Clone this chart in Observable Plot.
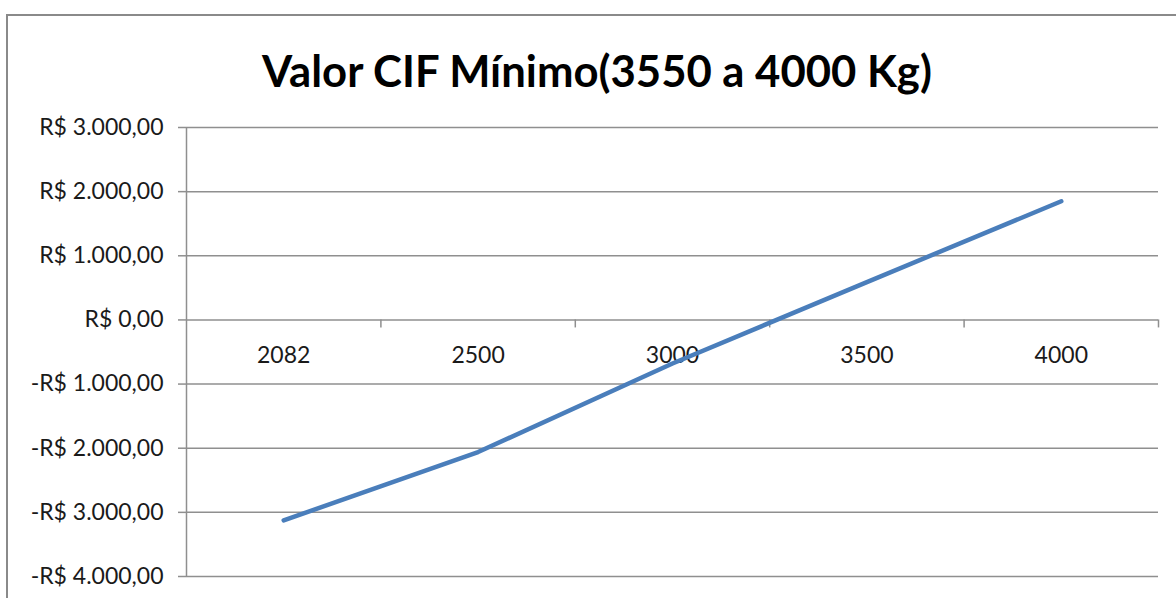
<!DOCTYPE html>
<html>
<head>
<meta charset="utf-8">
<script src="https://cdn.jsdelivr.net/npm/d3@7"></script>
<script src="https://cdn.jsdelivr.net/npm/@observablehq/plot@0.6"></script>
<style>
  html, body { margin: 0; padding: 0; background: #fff; overflow: hidden; width: 1176px; height: 598px; }
  #frame { position: absolute; left: 6px; top: 14px; width: 1300px; height: 800px;
           border-left: 2px solid #8a8a8a; border-top: 2px solid #8a8a8a; pointer-events: none; }
  #title { box-sizing: border-box; height: 100px; width: 1176px; padding-top: 41px; padding-left: 18px;
           text-align: center; font-family: Lato, "Open Sans", sans-serif; font-weight: 700;
           font-size: 53px; line-height: 1; color: #000; white-space: nowrap; }
  #title span { display: inline-block; }
  #chart svg { display: block; }
</style>
</head>
<body>
<div id="frame"></div>
<div id="title"><span>Valor CIF Mínimo(3550 a 4000 Kg)</span></div>
<div id="chart"></div>
<script>
// Weight categories (kg) and the minimum CIF value for each one (R$)
const pesos = ["2082", "2500", "3000", "3500", "4000"];
const valores = [-3125, -2060, -680, 590, 1850];
// Value axis ticks
const yTicks = [3000, 2000, 1000, 0, -1000, -2000, -3000, -4000];

const grid = "#8f8f8f";
const ink = "#1a1a1a";

// Fit the title's width
const span = document.querySelector("#title span");
const w = span.getBoundingClientRect().width;
if (w > 0) {
  const fs = 53 * 670 / w;
  const title = document.getElementById("title");
  title.style.fontSize = fs + "px";
  title.style.paddingTop = (41 + (53 - fs) * 0.89) + "px";
}

const brl = d3.formatLocale({decimal: ",", thousands: ".", grouping: [3], currency: ["R$ ", ""]}).format(",.2f");
const fmt = (v) => (v < 0 ? "-" : "") + "R$ " + brl(Math.abs(v));

// Each category occupies one unit on the x axis; points sit at the middle
const data = pesos.map((p, i) => ({idx: i + 0.5, peso: p, valor: valores[i]}));
const bounds = d3.range(1, pesos.length + 1);

const chart = Plot.plot({
  width: 1176,
  height: 498,
  marginTop: 27,
  marginBottom: 22,
  marginLeft: 186,
  marginRight: 18,
  style: {fontFamily: "Lato, 'Open Sans', sans-serif", fontSize: "23px", color: ink, background: "#fff"},
  x: {domain: [0, pesos.length], axis: null},
  y: {domain: [-4000, 3000], ticks: yTicks, label: null},
  marks: [
    Plot.ruleY(yTicks, {stroke: grid, strokeWidth: 1.5, strokeOpacity: 1}),
    Plot.ruleX([0], {stroke: grid, strokeWidth: 1.5}),
    Plot.axisY({ticks: yTicks, tickSize: 8, tickPadding: 15, tickFormat: fmt, stroke: grid, strokeWidth: 1.5, strokeOpacity: 1, fill: ink, label: null, fontSize: 23}),
    Plot.ruleX(bounds, {y1: 0, y2: 0, insetBottom: -8, stroke: grid, strokeWidth: 1.5}),
    Plot.text(data, {x: "idx", y: 0, text: "peso", dy: 36, fill: ink, fontSize: 23}),
    Plot.line(data, {x: "idx", y: "valor", stroke: "#4a7ebb", strokeWidth: 4.5, strokeLinecap: "round", strokeLinejoin: "round"})
  ]
});
document.getElementById("chart").appendChild(chart);
</script>
</body>
</html>
